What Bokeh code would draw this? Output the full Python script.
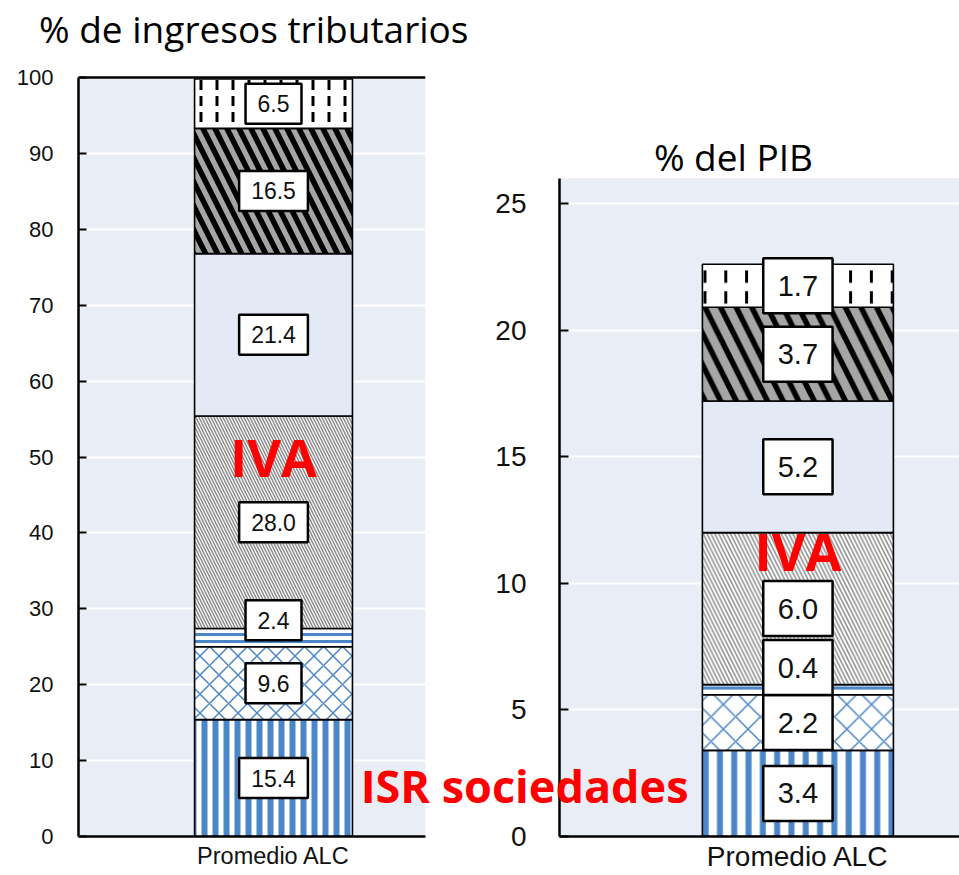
from bokeh.plotting import figure
from bokeh.models import ColumnDataSource, Range1d, FixedTicker, LinearAxis, Label, Span
from bokeh.layouts import row
from bokeh.embed import file_html
from bokeh.resources import INLINE
from bokeh.core.properties import value

# ---------------- data ----------------
category = "Promedio ALC"
series = ["ISR sociedades", "ISR personas físicas", "Nómina y otros", "IVA",
          "Otros bienes y servicios", "Seguridad social", "Otros"]
pct_tax_revenue = [15.4, 9.6, 2.4, 28.0, 21.4, 16.5, 6.5]
pct_gdp = [3.4, 2.2, 0.4, 6.0, 5.2, 3.7, 1.7]
left_ticks = [0, 10, 20, 30, 40, 50, 60, 70, 80, 90, 100]
right_ticks = [0, 5, 10, 15, 20, 25]
left_title = "% de ingresos tributarios"
right_title = "% del PIB"
red_vat = "IVA"
red_cit = "ISR sociedades"

# ---------------- styles ----------------
BLUE = "#4a86c8"
BG = "#e9edf6"
fills = ["white", "white", "white", "white", "#e3e9f5", "#a6a6a6", "white"]
hatches = ["vertical_line", "diagonal_cross", "horizontal_line", "left_diagonal_line",
           "blank", "left_diagonal_line", "vertical_dash"]
hatch_colors = [BLUE, BLUE, BLUE, "#8c8c8c", BLUE, "black", "black"]
hatch_weights = [6, 1.5, 3, 1.5, 1, 5.5, 3]
hatch_scales = [11, 19, 7, 6, 10, 24, 16]
label_shift_left = [0, 0, 2.3, 0, 0, 0, 0]
TICK_FONT = "Liberation Sans"
TITLE_FONT = "Open Sans"
H = 875
TOP, BOTTOM = 8, 39
LEFT_PX_PER_UNIT = 7.59
RIGHT_PX_PER_UNIT = 25.32


def text_width(s, fs):
    return sum(0.556 if c.isdigit() else 0.278 for c in s) * fs


def side_text_axis(p, tick, text, standoff, size, bold, color):
    """An unlined left axis that only carries one free text label."""
    ax = LinearAxis(ticker=FixedTicker(ticks=[tick]))
    ax.major_label_overrides = {tick: text}
    ax.axis_line_color = None
    ax.major_tick_line_color = None
    ax.minor_tick_line_color = None
    ax.major_tick_out = 0
    ax.major_tick_in = 0
    ax.major_label_standoff = standoff
    ax.major_label_text_font = TITLE_FONT
    ax.major_label_text_font_style = "bold" if bold else "normal"
    ax.major_label_text_font_size = size
    ax.major_label_text_color = color
    p.add_layout(ax, "left")


def build(values, px_per_unit, panel_top, ticks, x_start, bar_w, width, border_lr,
          tick_fs, cat_fs, box_fs, box_pad_x, box_h, hatch_k, shifts, label_std, cat_std,
          tick_in):
    y_end = (H - TOP - BOTTOM) / px_per_unit
    p = figure(width=width, height=H, output_backend="svg", toolbar_location=None,
               x_range=Range1d(x_start, x_start + 1), y_range=Range1d(0, y_end),
               min_border_left=border_lr[0], min_border_right=border_lr[1],
               min_border_top=TOP, min_border_bottom=BOTTOM,
               x_axis_location=None, y_axis_location=None)
    p.outline_line_color = None
    p.xgrid.visible = False
    p.ygrid.ticker = FixedTicker(ticks=ticks)
    p.ygrid.grid_line_color = "white"
    p.ygrid.grid_line_width = 2
    p.background_fill_color = "white"
    p.quad(left=x_start, right=x_start + 1, bottom=0, top=panel_top,
           fill_color=BG, line_color=None, level="image")

    # stacked segments
    tops, bottoms, acc = [], [], 0.0
    for v in values:
        bottoms.append(acc)
        acc += v
        tops.append(acc)
    src = ColumnDataSource(dict(
        x=[0.0] * len(values), bottom=bottoms, top=tops, fill=fills, hatch=hatches,
        hcolor=hatch_colors, hweight=hatch_weights, hscale=[s * hatch_k for s in hatch_scales]))
    p.vbar(x="x", bottom="bottom", top="top", width=bar_w, source=src,
           fill_color="fill", line_color="black", line_width=1.6,
           hatch_pattern="hatch", hatch_color="hcolor", hatch_weight="hweight",
           hatch_scale="hscale")

    # value labels in boxes (centred on segments, pushed up to avoid overlaps)
    h_units = box_h / px_per_unit
    ys, prev_top = [], -1e9
    for b, t, s in zip(bottoms, tops, shifts):
        y = (b + t) / 2 + s
        if y - h_units / 2 < prev_top:
            y = prev_top + h_units / 2
        ys.append(y)
        prev_top = y + h_units / 2
    texts = [f"{v:.1f}" for v in values]
    lsrc = ColumnDataSource(dict(
        x=[0.0] * len(values), y=ys, text=texts,
        w=[text_width(t, box_fs) + 2 * box_pad_x for t in texts]))
    p.rect(x="x", y="y", width="w", height=box_h, width_units="screen",
           height_units="screen", source=lsrc, fill_color="white",
           line_color="black", line_width=2.5)
    p.text(x="x", y="y", text="text", source=lsrc, text_align="center",
           text_baseline="middle", text_font=value(TICK_FONT),
           text_font_size=f"{box_fs}px", text_color="#111111")

    # axes
    yaxis = LinearAxis(ticker=FixedTicker(ticks=ticks), bounds=(0, panel_top))
    yaxis.axis_line_width = 2.5
    yaxis.axis_line_color = "black"
    yaxis.major_tick_in = tick_in
    yaxis.major_tick_out = 0
    yaxis.major_tick_line_width = 2
    yaxis.minor_tick_line_color = None
    yaxis.major_label_text_font = TICK_FONT
    yaxis.major_label_text_font_size = f"{tick_fs}px"
    yaxis.major_label_text_color = "#111111"
    yaxis.major_label_standoff = label_std
    p.add_layout(yaxis, "left")

    xaxis = LinearAxis(ticker=FixedTicker(ticks=[0]))
    xaxis.major_label_overrides = {0: category}
    xaxis.axis_line_width = 2.5
    xaxis.axis_line_color = "black"
    xaxis.major_tick_line_color = None
    xaxis.major_tick_out = 0
    xaxis.major_tick_in = 0
    xaxis.minor_tick_line_color = None
    xaxis.major_label_text_font = TICK_FONT
    xaxis.major_label_text_font_size = f"{cat_fs}px"
    xaxis.major_label_text_color = "#111111"
    xaxis.major_label_standoff = cat_std
    p.add_layout(xaxis, "below")
    return p


# ---------------- left panel ----------------
p1 = build(pct_tax_revenue, LEFT_PX_PER_UNIT, 100, left_ticks, -0.562, 0.455, 480, (78, 55),
           tick_fs=22, cat_fs=23.5, box_fs=23, box_pad_x=12, box_h=40, hatch_k=1.0,
           shifts=label_shift_left, label_std=25, cat_std=6, tick_in=8)
p1.add_layout(Span(location=100, dimension="width", line_color="black", line_width=2.5))
side_text_axis(p1, 106.4, left_title, -455, "37px", False, "black")
p1.add_layout(Label(x=0, y=50.1, text=red_vat, text_align="center", text_baseline="alphabetic",
                    text_font=TITLE_FONT, text_font_style="bold", text_font_size="52px",
                    text_color="#ff0000"))

# ---------------- right panel ----------------
p2 = build(pct_gdp, RIGHT_PX_PER_UNIT, 26.0, right_ticks, -0.596, 0.4775, 619, (219, 0),
           tick_fs=28, cat_fs=28, box_fs=29, box_pad_x=14.5, box_h=55, hatch_k=1.3,
           shifts=[0] * 7, label_std=33, cat_std=4, tick_in=9)
p2.border_fill_alpha = 0
p2.margin = (0, 0, 0, -140)
p2.add_layout(Label(x=-0.36, y=26.87, text=right_title, text_align="left",
                    text_baseline="alphabetic", text_font=TITLE_FONT,
                    text_font_size="37px", text_color="black"))
p2.add_layout(Label(x=0, y=11.29, text=red_vat, text_align="center", text_baseline="alphabetic",
                    text_font=TITLE_FONT, text_font_style="bold", text_font_size="52px",
                    text_color="#ff0000"))
# red annotation that reaches across the gap between the panels
side_text_axis(p2, 2.0, red_cit, -196, "45px", True, "#ff0000")

layout = row(p1, p2)
open("out.html", "w").write(file_html(layout, INLINE))
